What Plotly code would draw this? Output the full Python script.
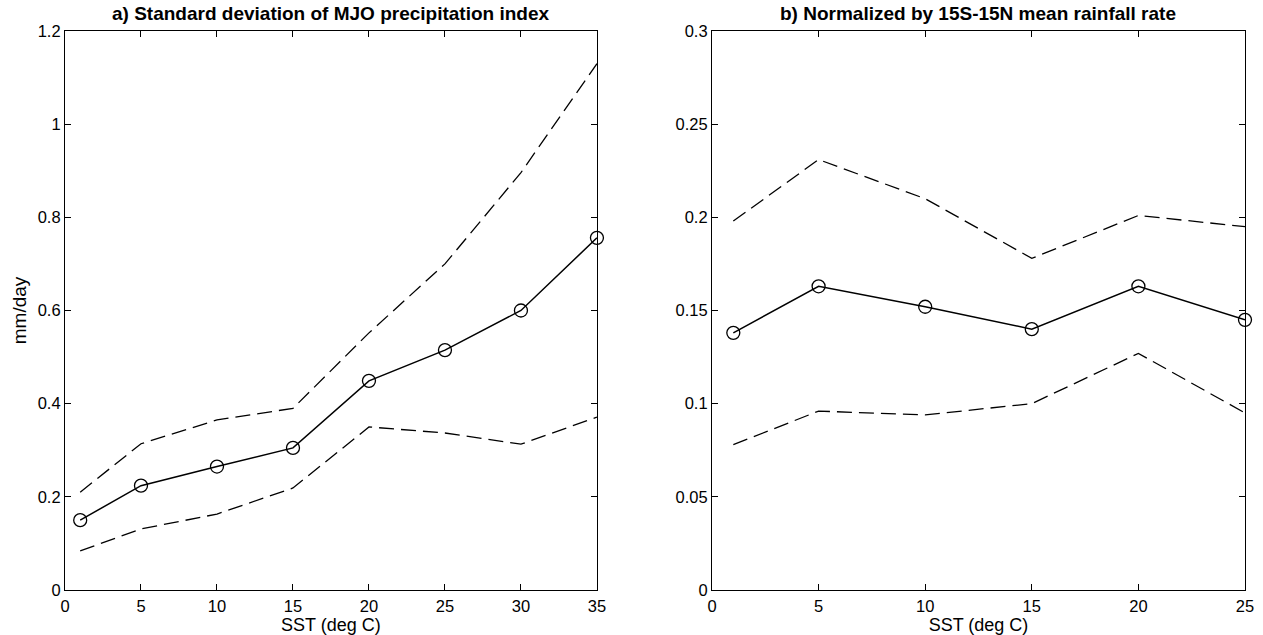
import plotly.graph_objects as go

# Panel a data
sst_a = [1, 5, 10, 15, 20, 25, 30, 35]
std_a = [0.150, 0.224, 0.265, 0.305, 0.449, 0.515, 0.600, 0.756]
upper_a = [0.210, 0.314, 0.365, 0.390, 0.552, 0.700, 0.896, 1.130]
lower_a = [0.084, 0.131, 0.163, 0.219, 0.350, 0.337, 0.313, 0.371]

# Panel b data
sst_b = [1, 5, 10, 15, 20, 25]
std_b = [0.138, 0.163, 0.152, 0.140, 0.163, 0.145]
upper_b = [0.198, 0.231, 0.210, 0.178, 0.201, 0.195]
lower_b = [0.078, 0.096, 0.094, 0.100, 0.127, 0.095]

title_a = "a) Standard deviation of MJO precipitation index"
title_b = "b) Normalized by 15S-15N mean rainfall rate"
xlabel = "SST (deg C)"
ylabel = "mm/day"

FONT = "Liberation Sans, Arial, Helvetica, sans-serif"
DASH = "15px,7px"

fig = go.Figure()

def add_panel(x, mid, up, lo, xa, ya):
    fig.add_trace(go.Scatter(x=x, y=up, mode="lines", xaxis=xa, yaxis=ya,
                             line=dict(color="black", width=1.3, dash=DASH),
                             showlegend=False, hoverinfo="skip"))
    fig.add_trace(go.Scatter(x=x, y=lo, mode="lines", xaxis=xa, yaxis=ya,
                             line=dict(color="black", width=1.3, dash=DASH),
                             showlegend=False, hoverinfo="skip"))
    fig.add_trace(go.Scatter(x=x, y=mid, mode="lines+markers", xaxis=xa, yaxis=ya,
                             line=dict(color="black", width=1.5),
                             marker=dict(symbol="circle-open", size=13,
                                         color="black", line=dict(width=1.3)),
                             showlegend=False, cliponaxis=False))

add_panel(sst_a, std_a, upper_a, lower_a, "x", "y")
add_panel(sst_b, std_b, upper_b, lower_b, "x2", "y2")

axis_common = dict(showline=True, linecolor="black", linewidth=1.2, mirror="ticks",
                   ticks="inside", ticklen=6, tickcolor="black", tickwidth=1,
                   showgrid=False, zeroline=False, automargin=False,
                   tickfont=dict(family=FONT, size=16.5, color="black"))

xtitle_font = dict(family=FONT, size=18, color="black")

fig.update_layout(
    width=1263, height=635,
    margin=dict(l=65, r=18, t=31, b=45),
    paper_bgcolor="white", plot_bgcolor="white",
    font=dict(family=FONT, color="black"),
    xaxis=dict(domain=[0, 0.4508], range=[0, 35], tickvals=[0, 5, 10, 15, 20, 25, 30, 35],
               ticklabelstandoff=1,
               title=dict(text=xlabel, font=xtitle_font, standoff=3), **axis_common),
    yaxis=dict(domain=[0, 1], range=[0, 1.2], tickvals=[0, 0.2, 0.4, 0.6, 0.8, 1, 1.2],
               ticktext=["0", "0.2", "0.4", "0.6", "0.8", "1", "1.2"],
               title=dict(text=ylabel, font=dict(family=FONT, size=19, color="black"),
                          standoff=6), **axis_common),
    xaxis2=dict(domain=[0.5483, 1], range=[0, 25], tickvals=[0, 5, 10, 15, 20, 25],
                anchor="y2", ticklabelstandoff=1,
                title=dict(text=xlabel, font=xtitle_font, standoff=3), **axis_common),
    yaxis2=dict(domain=[0, 1], range=[0, 0.3], anchor="x2",
                tickvals=[0, 0.05, 0.1, 0.15, 0.2, 0.25, 0.3],
                ticktext=["0", "0.05", "0.1", "0.15", "0.2", "0.25", "0.3"],
                **axis_common),
    annotations=[
        dict(text="<b>" + title_a + "</b>", xref="x domain", yref="paper", x=0.5, y=1.032,
             xanchor="center", yanchor="middle", showarrow=False,
             font=dict(family=FONT, size=19, color="black")),
        dict(text="<b>" + title_b + "</b>", xref="x2 domain", yref="paper", x=0.5, y=1.032,
             xanchor="center", yanchor="middle", showarrow=False,
             font=dict(family=FONT, size=19, color="black")),
    ],
)

fig.write_html("out.html")
